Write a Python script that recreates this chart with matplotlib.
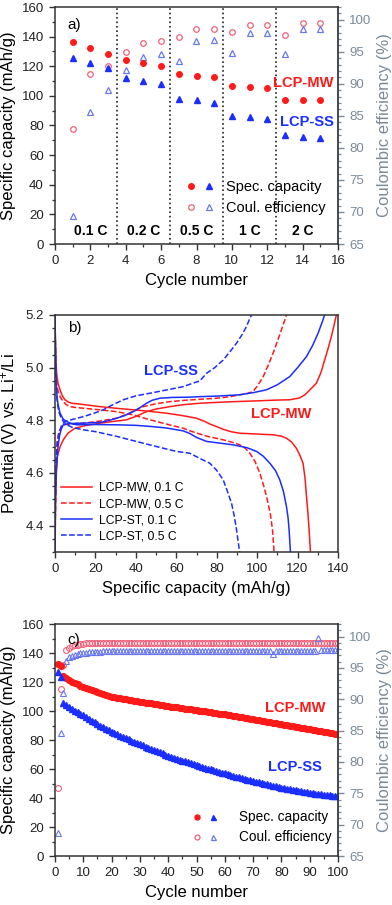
import numpy as np
import matplotlib
matplotlib.use("Agg")
import matplotlib.pyplot as plt
from matplotlib.ticker import MultipleLocator
from matplotlib.legend_handler import HandlerTuple
from matplotlib.lines import Line2D

plt.rcParams["font.family"] = ["Liberation Sans", "DejaVu Sans"]
plt.rcParams["mathtext.default"] = "regular"

RED = "#ff1a1a"
BLUE = "#1a2eff"
PINK = "#f0607a"
LBLUE = "#6a78f0"
GREY = "#7a8a99"

# ---- panel a: rate test ----
rate_cycles = np.arange(1, 16)
rate_labels = ["0.1 C", "0.2 C", "0.5 C", "1 C", "2 C"]
cap_mw_a = [136.5, 132, 128.5, 124, 122, 120.5, 114.5, 113.5, 112.5, 106.5, 106, 105.5, 97.5, 97.5, 97.5]
cap_ss_a = [125.5, 122, 119, 112, 110, 108, 98, 97, 95.5, 86.5, 85.5, 84.5, 73.5, 72.5, 71.5]
ce_mw_a = [82.9, 91.6, 92.8, 94.9, 96.4, 96.7, 97.3, 98.5, 98.5, 98.1, 99.2, 99.2, 97.7, 99.5, 99.5]
ce_ss_a = [69.3, 85.6, 89.0, 92.2, 94.2, 94.6, 93.5, 96.7, 96.9, 94.8, 98.0, 98.0, 94.7, 98.6, 98.6]

# ---- panel b: charge/discharge profiles (capacity, potential) ----
mw01_chg_q = [0, 0.3, 0.7, 1.2, 2.5, 4.1, 6.5, 9.9, 15, 22.2, 30, 35.4, 40, 45.3, 50, 56.8, 63, 71.7, 85, 100, 110, 116, 121, 123.6, 126, 129.3, 131.5, 133.4, 135, 136.7, 138, 139.2]
mw01_chg_v = [4.30, 4.50, 4.60, 4.663, 4.70, 4.726, 4.752, 4.770, 4.780, 4.789, 4.797, 4.802, 4.815, 4.833, 4.843, 4.852, 4.859, 4.865, 4.870, 4.874, 4.877, 4.878, 4.885, 4.897, 4.915, 4.941, 4.98, 5.029, 5.07, 5.118, 5.16, 5.2]
mw01_dis_q = [0, 0.2, 0.5, 0.8, 1.5, 2.5, 3.5, 4.9, 6.5, 8.2, 12, 22.2, 30, 38.7, 47, 55.2, 63, 70, 74, 76.6, 80, 83.2, 87, 91.4, 100, 107.9, 112, 114.5, 117, 119.4, 121, 122.7, 123.7, 124.4, 125.1, 125.7, 126.4]
mw01_dis_v = [5.2, 5.10, 5.02, 4.979, 4.94, 4.916, 4.895, 4.878, 4.870, 4.865, 4.862, 4.852, 4.846, 4.840, 4.834, 4.827, 4.818, 4.808, 4.796, 4.786, 4.776, 4.766, 4.757, 4.751, 4.748, 4.745, 4.740, 4.732, 4.718, 4.694, 4.670, 4.637, 4.58, 4.511, 4.45, 4.385, 4.296]
mw05_chg_q = [0, 0.3, 0.6, 1.0, 2.0, 4.1, 8, 14, 22, 30.5, 37, 43.7, 50, 56.8, 64, 71.7, 80, 86, 91.4, 95, 98, 100.5, 103, 105.5, 107.9, 110, 112, 114.5]
mw05_chg_v = [4.30, 4.50, 4.65, 4.72, 4.76, 4.783, 4.786, 4.789, 4.797, 4.808, 4.828, 4.852, 4.863, 4.871, 4.876, 4.880, 4.884, 4.889, 4.897, 4.902, 4.909, 4.935, 4.966, 5.01, 5.055, 5.10, 5.143, 5.2]
mw05_dis_q = [0, 0.2, 0.5, 1.0, 1.7, 2.5, 4, 5.5, 7.4, 10, 14, 22, 30.5, 39, 47, 55, 63.4, 66.7, 75, 83.2, 88, 91.4, 94, 96.4, 99, 101.3, 103.5, 105.4, 106.6, 107.6, 108.4]
mw05_dis_v = [5.2, 5.08, 4.98, 4.93, 4.905, 4.890, 4.872, 4.860, 4.852, 4.849, 4.846, 4.840, 4.833, 4.820, 4.802, 4.786, 4.770, 4.760, 4.740, 4.726, 4.716, 4.707, 4.695, 4.675, 4.643, 4.600, 4.545, 4.486, 4.44, 4.385, 4.296]
st01_chg_q = [0, 0.2, 0.5, 1.0, 1.5, 2.2, 3.0, 4.1, 6.5, 10.7, 16, 22.2, 26, 30.5, 34.5, 38.7, 42, 45.3, 48, 51.9, 58, 66.7, 71.7, 80, 91.4, 98, 104.6, 110, 116.1, 120, 124.4, 127.5, 130.1, 131.8, 133.4]
st01_chg_v = [4.30, 4.50, 4.60, 4.65, 4.70, 4.74, 4.765, 4.783, 4.787, 4.789, 4.790, 4.792, 4.798, 4.808, 4.818, 4.833, 4.848, 4.865, 4.876, 4.884, 4.887, 4.888, 4.890, 4.892, 4.897, 4.905, 4.916, 4.935, 4.966, 5.00, 5.042, 5.085, 5.130, 5.165, 5.2]
st01_dis_q = [0, 0.2, 0.4, 0.7, 1.0, 1.5, 2.5, 4, 5.8, 8, 10.7, 20, 30.5, 40, 47, 55, 63.4, 66.7, 70, 75, 80, 88.1, 95, 99.7, 103, 106.3, 109, 111.2, 113, 114.5, 115.3, 115.8, 116.5]
st01_dis_v = [5.2, 5.10, 5.0, 4.93, 4.89, 4.86, 4.827, 4.805, 4.795, 4.788, 4.783, 4.784, 4.783, 4.781, 4.777, 4.771, 4.760, 4.750, 4.735, 4.720, 4.715, 4.707, 4.696, 4.682, 4.664, 4.637, 4.61, 4.574, 4.53, 4.473, 4.43, 4.385, 4.296]
st05_chg_q = [0, 0.2, 0.5, 1.0, 2.0, 3.2, 4.9, 8, 14, 19, 23.9, 28, 33.8, 40, 47, 55, 63.4, 66.7, 71.7, 75, 79, 83.2, 86.5, 89.8, 92.5, 94.7, 96, 97.2]
st05_chg_v = [4.30, 4.50, 4.62, 4.70, 4.75, 4.78, 4.795, 4.802, 4.814, 4.826, 4.840, 4.857, 4.878, 4.893, 4.903, 4.915, 4.928, 4.937, 4.950, 4.979, 5.0, 5.029, 5.06, 5.093, 5.125, 5.156, 5.18, 5.2]
st05_dis_q = [0, 0.2, 0.4, 0.7, 1.0, 1.5, 2.0, 3, 4, 5.8, 9, 14, 20, 30, 43.7, 52, 60, 66.7, 71.7, 76.6, 80, 83.2, 85.3, 87.3, 88.6, 89.8, 90.6, 91.4]
st05_dis_v = [5.2, 5.06, 4.97, 4.92, 4.88, 4.85, 4.83, 4.81, 4.797, 4.783, 4.772, 4.764, 4.757, 4.740, 4.713, 4.697, 4.682, 4.675, 4.655, 4.637, 4.61, 4.574, 4.53, 4.486, 4.44, 4.385, 4.34, 4.296]

# ---- panel c: long cycling at 0.5 C ----
cycles_c = np.arange(1, 101)
cap_mw_c = [132.4, 131.0, 124.0, 122.5, 121.3, 120.2, 119.2, 118.3, 117.3, 116.4,
            115.6, 114.9, 114.2, 113.5, 112.9, 112.3, 111.7, 111.2, 110.5, 109.8,
            109.4, 109.0, 108.7, 108.3, 108.0, 107.7, 107.4, 107.1, 106.8, 106.4,
            106.1, 105.8, 105.5, 105.2, 104.9, 104.6, 104.3, 104.0, 103.7, 103.4,
            103.1, 102.8, 102.6, 102.3, 102.0, 101.7, 101.4, 101.2, 100.9, 100.6,
            100.3, 100.0, 99.7, 99.4, 99.1, 98.8, 98.5, 98.2, 97.9, 97.6,
            97.3, 97.0, 96.6, 96.3, 96.0, 95.7, 95.4, 95.1, 94.7, 94.4,
            94.1, 93.7, 93.4, 93.0, 92.7, 92.3, 92.0, 91.6, 91.3, 90.9,
            90.6, 90.2, 89.9, 89.6, 89.2, 88.9, 88.5, 88.2, 87.8, 87.5,
            87.2, 86.8, 86.5, 86.1, 85.8, 85.4, 85.1, 84.7, 84.4, 84.0]
cap_ss_c = [127.0, 123.6, 105.2, 104.0, 102.7, 101.5, 100.3, 99.2, 98.1, 97.1,
            95.8, 94.6, 93.4, 92.3, 91.2, 90.0, 88.9, 87.8, 86.7, 85.6,
            84.7, 83.8, 82.9, 82.0, 81.2, 80.4, 79.5, 78.7, 77.9, 77.1,
            76.3, 75.5, 74.7, 73.9, 73.1, 72.3, 71.5, 70.7, 69.9, 69.1,
            68.4, 67.8, 67.1, 66.5, 65.8, 65.2, 64.5, 63.9, 63.2, 62.6,
            62.0, 61.4, 60.9, 60.3, 59.7, 59.1, 58.6, 58.0, 57.5, 56.9,
            56.4, 55.8, 55.3, 54.8, 54.2, 53.7, 53.2, 52.6, 52.1, 51.6,
            51.2, 50.7, 50.3, 49.8, 49.4, 49.0, 48.5, 48.1, 47.6, 47.2,
            46.8, 46.4, 46.0, 45.7, 45.3, 44.9, 44.6, 44.2, 43.9, 43.5,
            43.3, 43.0, 42.8, 42.6, 42.3, 42.1, 41.9, 41.7, 41.4, 41.2]
ce_mw_c = [75.9, 91.7, 95.4, 97.8, 98.2, 98.5, 98.6, 98.7, 98.8, 98.8,
           98.9, 98.9, 98.9, 98.9, 99.0, 99.0, 99.0, 99.0, 99.0, 99.0,
           99.0, 99.0, 99.0, 99.0, 99.0, 99.0, 99.0, 99.0, 99.0, 99.0,
           99.0, 99.0, 99.0, 99.0, 99.0, 99.0, 99.0, 99.0, 99.0, 99.0,
           99.0, 99.0, 99.0, 99.0, 99.0, 99.0, 99.0, 99.0, 99.0, 99.0,
           99.0, 99.0, 99.0, 99.0, 99.0, 99.0, 99.0, 99.0, 99.0, 99.0,
           99.0, 99.0, 99.0, 99.0, 99.0, 99.0, 99.0, 99.0, 99.0, 99.0,
           99.0, 99.0, 99.0, 99.0, 99.0, 99.0, 99.0, 99.0, 99.0, 99.0,
           99.0, 99.0, 99.0, 99.0, 99.0, 99.0, 99.0, 99.0, 99.0, 99.0,
           99.0, 99.0, 99.0, 99.0, 99.0, 99.0, 99.0, 99.0, 99.0, 99.0]
ce_ss_c = [68.7, 84.6, 91.0, 96.1, 96.7, 96.9, 97.1, 97.2, 97.3, 97.3,
           97.4, 97.5, 97.5, 97.6, 97.6, 97.6, 97.7, 97.7, 97.7, 97.7,
           97.7, 97.7, 97.7, 97.7, 97.7, 97.7, 97.7, 97.7, 97.7, 97.7,
           97.7, 97.7, 97.7, 97.7, 97.7, 97.7, 97.7, 97.7, 97.7, 97.7,
           97.7, 97.7, 97.7, 97.7, 97.7, 97.7, 97.7, 97.7, 97.7, 97.7,
           97.7, 97.7, 97.7, 97.7, 97.7, 97.7, 97.7, 97.7, 97.7, 97.7,
           97.7, 97.7, 97.7, 97.7, 97.7, 97.7, 97.7, 97.7, 97.7, 97.7,
           97.7, 97.7, 97.7, 97.7, 97.7, 97.7, 97.2, 97.7, 97.7, 97.7,
           97.7, 97.7, 97.7, 97.7, 97.7, 97.7, 97.7, 97.7, 97.7, 97.7,
           97.7, 97.7, 99.8, 97.9, 97.9, 97.9, 97.9, 97.9, 97.9, 97.9]

W, H = 392, 905
fig = plt.figure(figsize=(W / 100, H / 100), dpi=100)


def frac(left, top, right, bottom):
    return [left / W, 1 - bottom / H, (right - left) / W, (bottom - top) / H]


def style_axis(ax):
    for s in ax.spines.values():
        s.set_linewidth(1.1)
        s.set_color("#333333")
    ax.tick_params(which="major", direction="out", length=4.5, width=1, labelsize=9.5, colors="#333333", labelcolor="#222222")
    ax.tick_params(which="minor", direction="out", length=2.5, width=0.9, colors="#333333")


def style_right(ax2):
    ax2.spines["right"].set_color(GREY)
    ax2.spines["right"].set_linewidth(1.1)
    ax2.spines["left"].set_visible(False)
    ax2.spines["top"].set_visible(False)
    ax2.spines["bottom"].set_visible(False)
    ax2.tick_params(which="major", direction="out", length=4.5, width=1, labelsize=9.5, colors=GREY, labelcolor=GREY)
    ax2.tick_params(which="minor", direction="out", length=2.5, width=0.9, colors=GREY)
    ax2.set_ylim(65, 102)
    ax2.yaxis.set_major_locator(MultipleLocator(5))
    ax2.yaxis.set_minor_locator(MultipleLocator(1))
    ax2.set_ylabel("Coulombic efficiency (%)", fontsize=12, color=GREY)


def cap_legend(ax, anchor, fs, ms, hl, pad):
    h1 = (Line2D([], [], ls="", marker="o", color=RED, ms=ms),
          Line2D([], [], ls="", marker="^", color=BLUE, ms=ms))
    h2 = (Line2D([], [], ls="", marker="o", mfc="none", mec=PINK, ms=ms, mew=0.9),
          Line2D([], [], ls="", marker="^", mfc="none", mec=LBLUE, ms=ms, mew=0.9))
    ax.legend([h1, h2], ["Spec. capacity", "Coul. efficiency"],
              handler_map={tuple: HandlerTuple(ndivide=None, pad=0.9)},
              loc="upper left", bbox_to_anchor=anchor, frameon=False,
              fontsize=fs, handlelength=hl, handletextpad=pad, labelspacing=0.45,
              borderpad=0, borderaxespad=0)


# ---------------- panel a ----------------
ax1 = fig.add_axes(frac(55, 7, 338, 244))
ax1b = ax1.twinx()
ax1.set_zorder(ax1b.get_zorder() + 1)
ax1.patch.set_visible(False)
ms_a = 4.0
ax1.plot(rate_cycles, cap_mw_a, "o", color=RED, ms=ms_a)
ax1.plot(rate_cycles, cap_ss_a, "^", color=BLUE, ms=ms_a)
ax1b.plot(rate_cycles, ce_mw_a, "o", mfc="none", mec=PINK, ms=ms_a, mew=0.9)
ax1b.plot(rate_cycles, ce_ss_a, "^", mfc="none", mec=LBLUE, ms=ms_a, mew=0.9)
for xb in [3.5, 6.5, 9.5, 12.5]:
    ax1.axvline(xb, color="#222222", ls=":", lw=1.2)
for i, lab in enumerate(rate_labels):
    ax1.text(2 + 3 * i, 9, lab, ha="center", va="center", fontsize=10, fontweight="bold")
ax1.text(15.75, 108.4, "LCP-MW", color=RED, fontsize=10.5, fontweight="bold", ha="right", va="center")
ax1.text(15.75, 82.6, "LCP-SS", color=BLUE, fontsize=10.5, fontweight="bold", ha="right", va="center")
ax1.text(0.045, 0.955, "a)", transform=ax1.transAxes, fontsize=11, ha="left", va="top")
ax1.set_xlim(0, 16)
ax1.set_ylim(0, 160)
ax1.xaxis.set_major_locator(MultipleLocator(2))
ax1.xaxis.set_minor_locator(MultipleLocator(1))
ax1.yaxis.set_major_locator(MultipleLocator(20))
ax1.yaxis.set_minor_locator(MultipleLocator(10))
ax1.set_xlabel("Cycle number", fontsize=12)
ax1.set_ylabel("Specific capacity (mAh/g)", fontsize=12)
style_axis(ax1)
style_right(ax1b)
cap_legend(ax1, (0.47, 0.268), 10.5, ms_a, 1.6, 1.0)

# ---------------- panel b ----------------
ax2 = fig.add_axes(frac(55, 315, 338, 552))
lw = 1.1
ax2.plot(mw01_chg_q, mw01_chg_v, "-", color=RED, lw=lw, label="LCP-MW, 0.1 C")
ax2.plot(mw01_dis_q, mw01_dis_v, "-", color=RED, lw=lw)
ax2.plot(mw05_chg_q, mw05_chg_v, "--", color=RED, lw=lw, label="LCP-MW, 0.5 C")
ax2.plot(mw05_dis_q, mw05_dis_v, "--", color=RED, lw=lw)
ax2.plot(st01_chg_q, st01_chg_v, "-", color=BLUE, lw=lw, label="LCP-ST, 0.1 C")
ax2.plot(st01_dis_q, st01_dis_v, "-", color=BLUE, lw=lw)
ax2.plot(st05_chg_q, st05_chg_v, "--", color=BLUE, lw=lw, label="LCP-ST, 0.5 C")
ax2.plot(st05_dis_q, st05_dis_v, "--", color=BLUE, lw=lw)
ax2.text(57.5, 4.988, "LCP-SS", color=BLUE, fontsize=10.5, fontweight="bold", ha="center", va="center")
ax2.text(112, 4.825, "LCP-MW", color=RED, fontsize=10.5, fontweight="bold", ha="center", va="center")
ax2.text(0.045, 0.975, "b)", transform=ax2.transAxes, fontsize=11, ha="left", va="top")
ax2.set_xlim(0, 140)
ax2.set_ylim(4.3, 5.2)
ax2.xaxis.set_major_locator(MultipleLocator(20))
ax2.xaxis.set_minor_locator(MultipleLocator(10))
ax2.yaxis.set_major_locator(MultipleLocator(0.2))
ax2.yaxis.set_minor_locator(MultipleLocator(0.05))
ax2.yaxis.set_major_formatter(matplotlib.ticker.FormatStrFormatter("%.1f"))
ax2.set_xlabel("Specific capacity (mAh/g)", fontsize=12)
ax2.set_ylabel("Potential (V) vs. Li$^{+}$/Li", fontsize=12)
style_axis(ax2)
ax2.legend(loc="lower left", bbox_to_anchor=(0.02, 0.04), frameon=False, fontsize=8.7,
           handlelength=2.6, handletextpad=0.6, labelspacing=0.35, borderpad=0, borderaxespad=0)

# ---------------- panel c ----------------
ax3 = fig.add_axes(frac(55, 624, 338, 856))
ax3b = ax3.twinx()
ax3.set_zorder(ax3b.get_zorder() + 1)
ax3.patch.set_visible(False)
ms_c = 4.2
ax3.plot(cycles_c, cap_mw_c, "o", color=RED, ms=ms_c)
ax3.plot(cycles_c, cap_ss_c, "^", color=BLUE, ms=ms_c)
ax3b.plot(cycles_c, ce_mw_c, "o", mfc="none", mec=PINK, ms=ms_c, mew=0.8)
ax3b.plot(cycles_c, ce_ss_c, "^", mfc="none", mec=LBLUE, ms=ms_c, mew=0.8)
ax3.text(84.7, 102.4, "LCP-MW", color=RED, fontsize=10.5, fontweight="bold", ha="center", va="center")
ax3.text(84.7, 61.5, "LCP-SS", color=BLUE, fontsize=10.5, fontweight="bold", ha="center", va="center")
ax3.text(0.045, 0.96, "c)", transform=ax3.transAxes, fontsize=11, ha="left", va="top")
ax3.set_xlim(0, 100)
ax3.set_ylim(0, 160)
ax3.xaxis.set_major_locator(MultipleLocator(10))
ax3.xaxis.set_minor_locator(MultipleLocator(5))
ax3.yaxis.set_major_locator(MultipleLocator(20))
ax3.yaxis.set_minor_locator(MultipleLocator(10))
ax3.set_xlabel("Cycle number", fontsize=12)
ax3.set_ylabel("Specific capacity (mAh/g)", fontsize=12)
style_axis(ax3)
style_right(ax3b)
cap_legend(ax3, (0.495, 0.197), 9.8, 3.6, 1.5, 1.7)

fig.savefig("out.png", dpi=100)
